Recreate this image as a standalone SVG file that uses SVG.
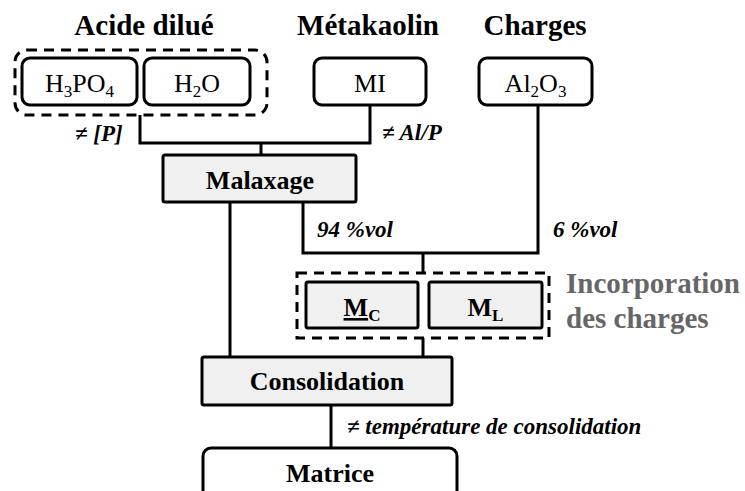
<svg xmlns="http://www.w3.org/2000/svg" width="745" height="491" viewBox="0 0 745 491">
<style>
text{font-family:'Liberation Serif','Times New Roman',serif;fill:#000}
.h{font-size:29px;font-weight:bold}
.b{font-size:26px}
.bb{font-size:26px;font-weight:bold}
.lab{font-size:23px;font-weight:bold;font-style:italic}
.box{fill:#fff;stroke:#000;stroke-width:3}
.gbox{fill:#f0f0f0;stroke:#000;stroke-width:3}
.dash{fill:none;stroke:#000;stroke-width:3;stroke-dasharray:10 7}
.ln{fill:none;stroke:#000;stroke-width:3}
.gray{fill:#666}
</style>
<rect width="745" height="491" fill="#fff"/>
<g id="titles">
<text class="h" x="144" y="35" text-anchor="middle">Acide dilué</text>
<text class="h" x="368" y="35" text-anchor="middle">Métakaolin</text>
<text class="h" x="535" y="35" text-anchor="middle">Charges</text>
</g>
<g id="connectors">
<polyline class="ln" points="140,115 140,143 370,143 370,105"/>
<line class="ln" x1="261" y1="143" x2="261" y2="155"/>
<line class="ln" x1="230" y1="202" x2="230" y2="357"/>
<polyline class="ln" points="303,202 303,253 538,253 538,105"/>
<line class="ln" x1="423" y1="253" x2="423" y2="273"/>
<line class="ln" x1="423" y1="338" x2="423" y2="357"/>
<line class="ln" x1="331" y1="405" x2="331" y2="448"/>
</g>
<g id="labels">
<text class="lab" x="75" y="141">≠ [P]</text>
<text class="lab" x="382" y="140">≠ Al/P</text>
<text class="lab" x="317" y="237">94 %vol</text>
<text class="lab" x="553" y="237">6 %vol</text>
<text class="lab" x="347" y="434">≠ température de consolidation</text>
</g>
<g id="acide-group">
<rect class="dash" x="15" y="50" width="252" height="65" rx="12"/>
</g>
<g id="h3po4">
<rect class="box" x="22" y="58" width="115" height="47" rx="8"/>
<text class="b" x="79.5" y="92" text-anchor="middle">H<tspan font-size="17" dy="5">3</tspan><tspan dy="-5">PO</tspan><tspan font-size="17" dy="5">4</tspan></text>
</g>
<g id="h2o">
<rect class="box" x="144" y="58" width="106" height="47" rx="8"/>
<text class="b" x="197" y="92" text-anchor="middle">H<tspan font-size="17" dy="5">2</tspan><tspan dy="-5">O</tspan></text>
</g>
<g id="mi">
<rect class="box" x="314" y="58" width="112" height="47" rx="8"/>
<text class="b" x="370" y="92" text-anchor="middle">MI</text>
</g>
<g id="al2o3">
<rect class="box" x="479" y="58" width="113" height="47" rx="8"/>
<text class="b" x="535.5" y="92" text-anchor="middle">Al<tspan font-size="17" dy="5">2</tspan><tspan dy="-5">O</tspan><tspan font-size="17" dy="5">3</tspan></text>
</g>
<g id="malaxage">
<rect class="gbox" x="163" y="155" width="193" height="47" rx="2"/>
<text class="bb" x="260" y="189" text-anchor="middle">Malaxage</text>
</g>
<g id="incorporation">
<rect class="dash" x="297" y="273" width="252" height="65"/>
<text class="h gray" x="566" y="293">Incorporation</text>
<text class="h gray" x="566" y="328">des charges</text>
</g>
<g id="mc">
<rect class="gbox" x="306" y="282" width="112" height="46" rx="2"/>
<text class="bb" x="362" y="316" text-anchor="middle"><tspan text-decoration="underline">M</tspan><tspan font-size="17" dy="5">C</tspan></text>
</g>
<g id="ml">
<rect class="gbox" x="429" y="282" width="113" height="46" rx="2"/>
<text class="bb" x="485.5" y="316" text-anchor="middle">M<tspan font-size="17" dy="5">L</tspan></text>
</g>
<g id="consolidation">
<rect class="gbox" x="202" y="357" width="250" height="48" rx="2"/>
<text class="bb" x="327" y="390" text-anchor="middle">Consolidation</text>
</g>
<g id="matrice">
<rect class="box" x="203" y="448" width="254" height="70" rx="8"/>
<text class="bb" x="330" y="482" text-anchor="middle">Matrice</text>
</g>
</svg>
